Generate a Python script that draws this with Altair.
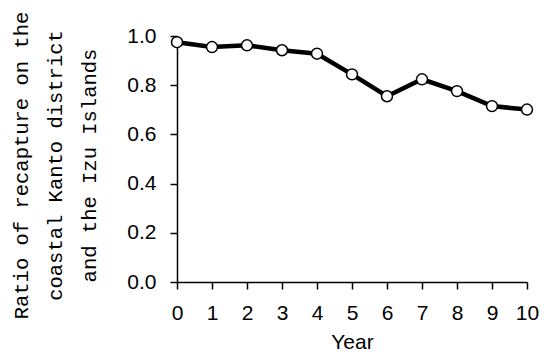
import altair as alt
import pandas as pd

years = [0, 1, 2, 3, 4, 5, 6, 7, 8, 9, 10]
ratio = [0.975, 0.955, 0.962, 0.942, 0.928, 0.844, 0.755, 0.824, 0.776, 0.715, 0.701]
y_title = ["Ratio of recapture on the", "coastal Kanto district", "and the Izu Islands"]

df = pd.DataFrame({"Year": years, "Ratio": ratio})

x_enc = alt.X("Year:Q", scale=alt.Scale(domain=[0, 10], nice=False, zero=False),
              axis=alt.Axis(title="Year", values=years, format="d", grid=False,
                            tickSize=7, labelPadding=13, titlePadding=8,
                            labelFontSize=21, titleFontSize=21, labelOverlap=False,
                            labelFont="Liberation Sans", titleFont="Liberation Sans",
                            labelFlush=False))
y_enc = alt.Y("Ratio:Q", scale=alt.Scale(domain=[0, 1], nice=False),
              axis=alt.Axis(title=y_title, values=[0, 0.2, 0.4, 0.6, 0.8, 1.0], format=".1f",
                            grid=False, tickSize=7, labelPadding=14, labelOverlap=False,
                            labelFontSize=21, titleFontSize=20.5,
                            labelFont="Liberation Sans", titleFont="Liberation Mono",
                            titleFontWeight="normal", titleLineHeight=34,
                            titleAngle=-90, titleAlign="center", titleBaseline="top",
                            titleX=-166, titleY=129, labelFlush=False))

base = alt.Chart(df).encode(x=x_enc, y=y_enc)
line = base.mark_line(color="black", strokeWidth=4.5)
pts = base.mark_point(shape="circle", filled=True, fill="white", stroke="black",
                      strokeWidth=1.5, size=120, opacity=1)

chart = (line + pts).properties(
    width=350, height=246,
    autosize=alt.AutoSizeParams(type="none"),
    padding={"left": 169, "top": 28, "right": 12, "bottom": 70},
).configure_view(stroke=None).configure_axis(
    domainColor="black", tickColor="black", labelColor="black", titleColor="black",
    domainWidth=1.5, tickWidth=1.5, titleFontWeight="normal")

chart.save("out.html", embed_options={"renderer": "svg", "actions": False})
